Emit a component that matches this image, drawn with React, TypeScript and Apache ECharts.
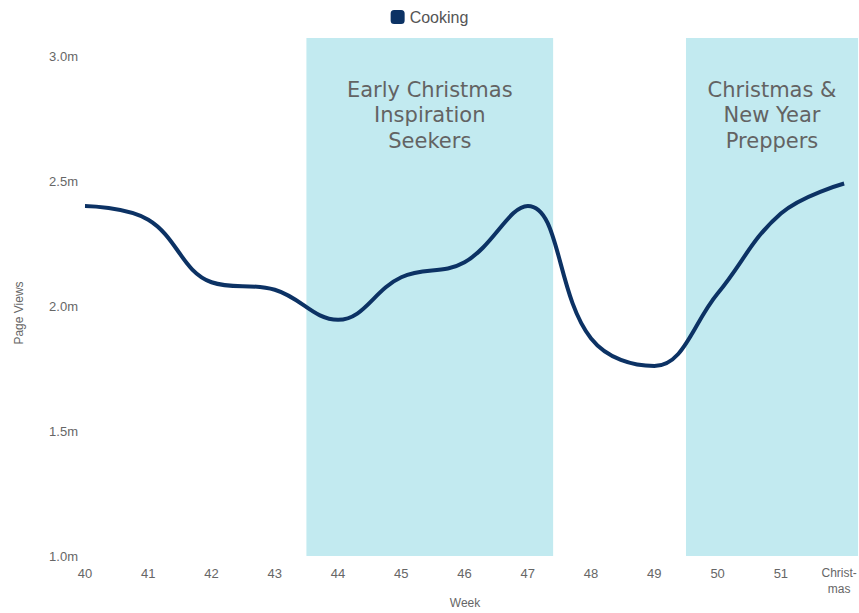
import React, { useEffect, useRef } from "react";
import * as echarts from "echarts";

// Week numbers plotted on the x axis (52 is the Christmas week)
const weeks = [40, 41, 42, 43, 44, 45, 46, 47, 48, 49, 50, 51, 52];
const weekLabels = ["40", "41", "42", "43", "44", "45", "46", "47", "48", "49", "50", "51", "Christ-\nmas"];

// Page views in millions
const cookingViews = [2.4, 2.345, 2.095, 2.065, 1.945, 2.115, 2.175, 2.4, 1.87, 1.76, 2.05, 2.37, 2.49];

// Shaded audience phases
const bandStarts = [43.5, 49.5];
const bandEnds = [47.4, 52.22];
const bandLabels = ["Early Christmas\nInspiration\nSeekers", "Christmas &\nNew Year\nPreppers"];

const LINE_COLOR = "#0c3264";
const BAND_COLOR = "#c2eaf0";
const AXIS_TEXT = "#666666";

export default function App() {
  const ref = useRef<HTMLDivElement>(null);

  useEffect(() => {
    if (!ref.current) return;
    const chart = echarts.init(ref.current, null, { renderer: "svg" });

    // Multi-line labels are nudged left so they stay inside the chart edge
    const labelFor = (v: number) => {
      const i = weeks.indexOf(v);
      if (i < 0) return "";
      const text = weekLabels[i];
      if (text.includes("\n")) {
        return text
          .split("\n")
          .map((line) => `{edge|${line}}`)
          .join("\n");
      }
      return text;
    };

    chart.setOption({
      animation: false,
      textStyle: { fontFamily: "Liberation Sans, Arial, sans-serif" },
      legend: {
        top: 4,
        left: "center",
        icon: "roundRect",
        itemWidth: 14,
        itemHeight: 14,
        itemGap: 10,
        textStyle: { fontSize: 16, color: "#555555", fontFamily: "Liberation Sans" },
        data: ["Cooking"],
      },
      grid: {
        left: 85,
        right: 0,
        top: 38,
        bottom: 57,
        containLabel: false,
        outerBoundsMode: "none",
      },
      xAxis: {
        type: "value",
        min: 40,
        max: 52.235,
        interval: 1,
        name: "Week",
        nameLocation: "middle",
        nameGap: 41,
        nameMoveOverlap: false,
        nameTextStyle: { fontSize: 12, color: AXIS_TEXT, padding: [0, 14, 0, 0] },
        axisLine: { show: false },
        axisTick: { show: false },
        splitLine: { show: false },
        axisLabel: {
          margin: 9,
          fontSize: 13,
          color: AXIS_TEXT,
          lineHeight: 16,
          formatter: (v: number) => labelFor(v),
          rich: {
            edge: {
              fontSize: 12,
              lineHeight: 16,
              color: AXIS_TEXT,
              padding: [0, 10, 0, 0],
            },
          },
        },
      },
      yAxis: {
        type: "value",
        min: 1.0,
        max: 3.072,
        interval: 0.5,
        name: "Page Views",
        nameLocation: "middle",
        nameGap: 60,
        nameMoveOverlap: false,
        nameTextStyle: { fontSize: 12, color: AXIS_TEXT, padding: [0, 0, 0, -32] },
        axisLine: { show: false },
        axisTick: { show: false },
        splitLine: { show: false },
        axisLabel: {
          margin: 7,
          fontSize: 13,
          color: AXIS_TEXT,
          formatter: (v: number) =>
            Math.abs(v * 2 - Math.round(v * 2)) < 1e-6 ? v.toFixed(1) + "m" : "",
        },
      },
      series: [
        {
          name: "Cooking",
          type: "line",
          data: weeks.map((w, i) => [w, cookingViews[i]]),
          smooth: 0.4,
          showSymbol: false,
          symbol: "none",
          color: LINE_COLOR,
          lineStyle: { color: LINE_COLOR, width: 4 },
          z: 3,
          markArea: {
            silent: true,
            itemStyle: { color: BAND_COLOR },
            label: {
              position: "insideTop",
              distance: 39,
              fontSize: 21,
              lineHeight: 25.5,
              color: "#636363",
              align: "center",
              fontFamily: "DejaVu Sans",
            },
            data: bandStarts.map((s, i) => [
              { xAxis: s, name: bandLabels[i] },
              { xAxis: bandEnds[i] },
            ]),
          },
        },
      ],
    });

    return () => chart.dispose();
  }, []);

  return <div ref={ref} style={{ width: 859, height: 613, position: "absolute", left: 0, top: 0 }} />;
}
